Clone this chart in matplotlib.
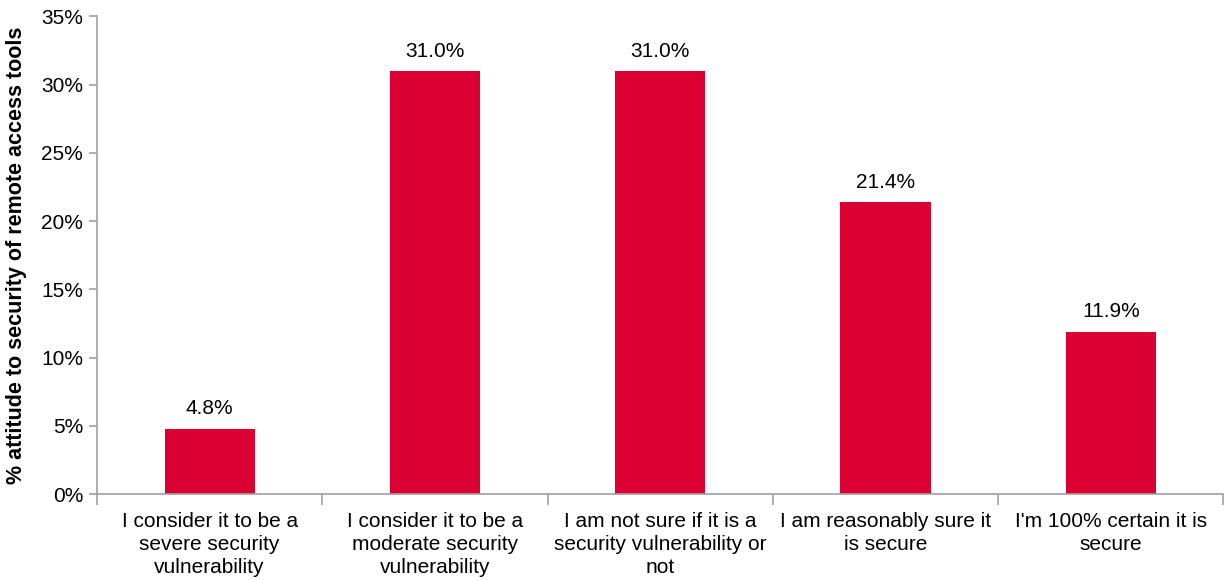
import numpy as np
import matplotlib.pyplot as plt
from matplotlib.ticker import FixedLocator, NullFormatter

categories = [
    "I consider it to be a\nsevere security\nvulnerability",
    "I consider it to be a\nmoderate security\nvulnerability",
    "I am not sure if it is a\nsecurity vulnerability or\nnot",
    "I am reasonably sure it\nis secure",
    "I'm 100% certain it is\nsecure",
]
values = [4.8, 31.0, 31.0, 21.4, 11.9]
y_ticks = [0, 5, 10, 15, 20, 25, 30, 35]

plt.rcParams['font.family'] = ['Liberation Sans', 'DejaVu Sans']

fig = plt.figure(figsize=(12.25, 5.8), dpi=100)
ax = fig.add_axes([0.0792, 0.148, 0.9195, 0.824])

x = np.arange(len(categories))
bars = ax.bar(x, values, width=0.4, color='#DC0032')

for xi, v in zip(x, values):
    ax.text(xi, v + 0.75, f'{v:.1f}%', ha='center', va='bottom', fontsize=15)

ax.set_xlim(-0.5, len(categories) - 0.5)
ax.set_ylim(0, 35)
ax.set_yticks(y_ticks)
ax.set_yticklabels([f'{t}%' for t in y_ticks], fontsize=15)

# category labels centred under bars, tick marks between categories
ax.set_xticks(x)
ax.set_xticklabels(categories, fontsize=15, linespacing=1.25)
ax.tick_params(axis='x', which='major', length=0, pad=13)
ax.xaxis.set_minor_locator(FixedLocator(np.arange(-0.5, len(categories), 1.0)))
ax.xaxis.set_minor_formatter(NullFormatter())
ax.tick_params(axis='x', which='minor', length=8, color='#A0A0A0', width=1.2)
ax.tick_params(axis='y', length=6, color='#A0A0A0', width=1.2, pad=4)

for side in ['top', 'right']:
    ax.spines[side].set_visible(False)
for side in ['left', 'bottom']:
    ax.spines[side].set_color('#A0A0A0')
    ax.spines[side].set_linewidth(1.2)

ax.set_ylabel('% attitude to security of remote access tools', fontsize=15.5,
              fontweight='bold', labelpad=10)

fig.savefig('out.png', dpi=100)
